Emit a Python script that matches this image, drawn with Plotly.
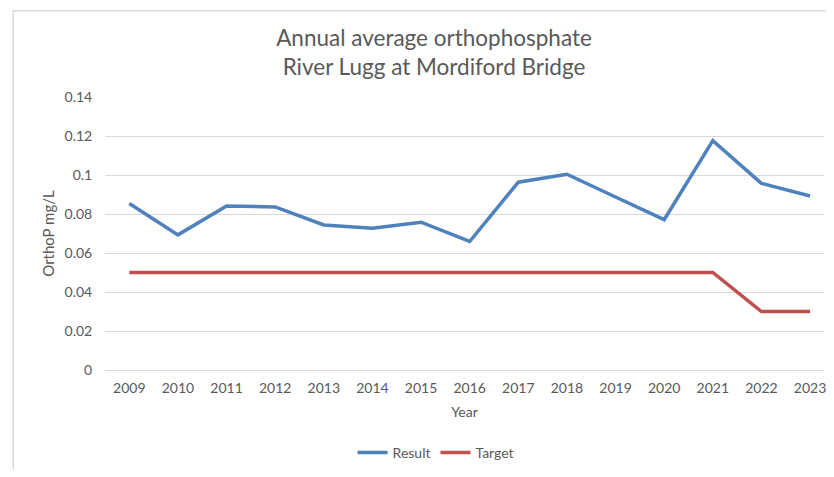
import plotly.graph_objects as go

years = [str(y) for y in range(2009, 2024)]
result = [0.0854, 0.0693, 0.0841, 0.0836, 0.0744, 0.0727, 0.0758, 0.0659,
          0.0963, 0.1004, 0.0887, 0.0771, 0.1176, 0.0957, 0.0892]
target = [0.05] * 13 + [0.03, 0.03]
y_ticks = [0, 0.02, 0.04, 0.06, 0.08, 0.1, 0.12, 0.14]
y_tick_labels = ["0", "0.02", "0.04", "0.06", "0.08", "0.1", "0.12", "0.14"]

FONT = "Lato"
TXT = "#595959"
OFF = 8  # page body margin

fig = go.Figure()
fig.add_trace(go.Scatter(x=years, y=result, mode="lines", name="Result",
                         line=dict(color="#4F81BD", width=3.5)))
fig.add_trace(go.Scatter(x=years, y=target, mode="lines", name="Target",
                         line=dict(color="#C0504D", width=3.5)))

W, H = 834 - 2 * OFF, 477 - 2 * OFF
L, T = 105 - OFF, 97 - OFF
R = 0
B = H - (372 - OFF)
pw, ph = W - L - R, H - T - B
x_end = 14 + ((834 - OFF) - 812) / 48.8

fig.update_layout(
    width=W, height=H,
    margin=dict(l=L, r=R, t=T, b=B),
    paper_bgcolor="white", plot_bgcolor="white",
    font=dict(family=FONT, color=TXT, size=13),
    title=dict(text="Annual average orthophosphate<br>River Lugg at Mordiford Bridge",
               x=(434 - OFF) / W, xanchor="center", y=1 - 37.5 / H, yanchor="middle",
               font=dict(family=FONT, size=22.5, color=TXT)),
    showlegend=True,
    legend=dict(orientation="h", x=(437 - 105) / pw, xanchor="center",
                y=-(456 - 372) / ph, yanchor="middle",
                font=dict(size=14, color=TXT), itemwidth=30,
                bgcolor="rgba(0,0,0,0)"),
    xaxis=dict(type="category", range=[-0.5, x_end],
               showgrid=False, showline=False, zeroline=False,
               ticks="outside", ticklen=5, tickcolor="rgba(0,0,0,0)",
               tickfont=dict(size=14, color=TXT),
               title=dict(text="Year", font=dict(size=14, color=TXT), standoff=12)),
    yaxis=dict(range=[0, 0.14], tickvals=y_ticks, ticktext=y_tick_labels,
               showgrid=True, gridcolor="#D9D9D9", gridwidth=1,
               zeroline=True, zerolinecolor="#D9D9D9", zerolinewidth=1,
               showline=False, ticks="outside", ticklen=9,
               tickcolor="rgba(0,0,0,0)",
               tickfont=dict(size=14, color=TXT),
               title=dict(text="OrthoP mg/L", font=dict(size=15, color=TXT), standoff=6)),
    shapes=[dict(type="rect", xref="paper", yref="paper",
                 x0=(13 - 105) / pw, x1=1.2, y0=-0.6, y1=1 + (97 - 10) / ph,
                 line=dict(color="#D9D9D9", width=1.5), fillcolor="rgba(0,0,0,0)",
                 layer="below")],
)

fig.write_html("out.html")
